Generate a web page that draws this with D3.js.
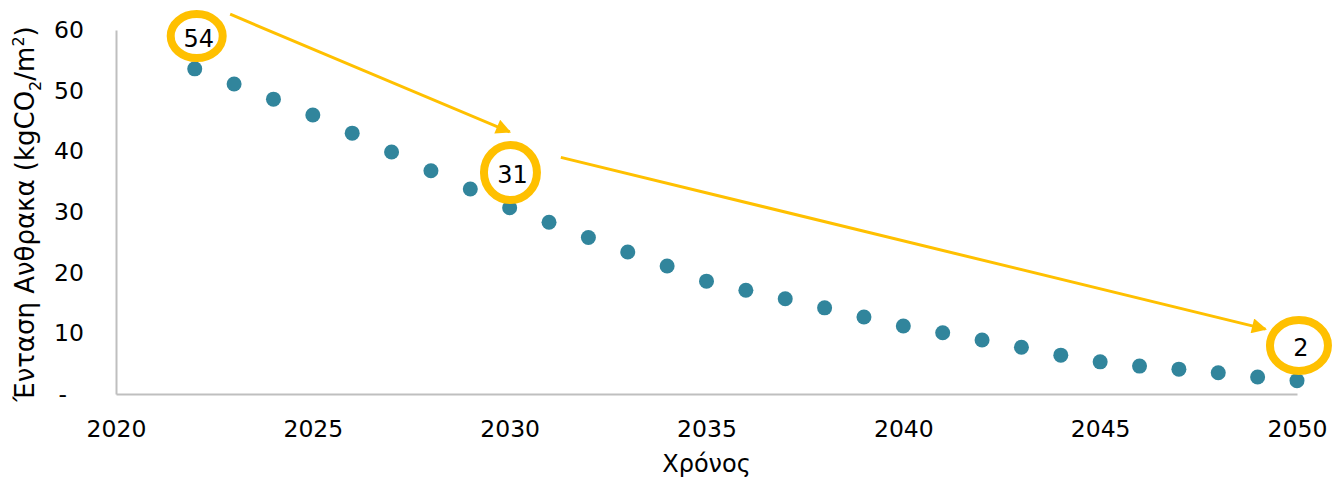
<!DOCTYPE html>
<html lang="el">
<head>
  <meta charset="UTF-8">
  <title>Carbon intensity</title>
  <script src="https://d3js.org/d3.v7.min.js"></script>
  <style>
    body { margin: 0; background: #fff; }
    text { font-family: "DejaVu Sans", Verdana, sans-serif; fill: #000; }
  </style>
</head>
<body>
  <div id="chart"></div>
  <script>
    // data
    const years = [2022, 2023, 2024, 2025, 2026, 2027, 2028, 2029, 2030, 2031,
      2032, 2033, 2034, 2035, 2036, 2037, 2038, 2039, 2040, 2041,
      2042, 2043, 2044, 2045, 2046, 2047, 2048, 2049, 2050];
    const intensity = [53.6, 51.1, 48.6, 46.0, 43.0, 39.9, 36.8, 33.8, 30.7, 28.3,
      25.8, 23.4, 21.1, 18.6, 17.1, 15.7, 14.2, 12.7, 11.2, 10.1,
      8.9, 7.7, 6.4, 5.3, 4.6, 4.1, 3.5, 2.8, 2.2];
    const xTicks = [2020, 2025, 2030, 2035, 2040, 2045, 2050];
    const yTicks = [0, 10, 20, 30, 40, 50, 60];

    // highlighted values (label, ring centre in data units)
    const callouts = [
      { label: '54', x: 2022.05, y: 59.0, rx: 30, ry: 26 },
      { label: '31', x: 2030.02, y: 36.5, rx: 30.5, ry: 31.5 },
      { label: '2', x: 2050.05, y: 8.0, rx: 33, ry: 29.5 }
    ];
    // arrows between callouts, in data units
    const arrows = [
      { x1: 2022.9, y1: 62.6, x2: 2030.0, y2: 43.2 },
      { x1: 2031.3, y1: 39.0, x2: 2049.2, y2: 10.7 }
    ];

    const width = 1337, height = 478;
    const margin = { top: 30, right: 40, bottom: 84, left: 116 };

    const svg = d3.select('#chart').append('svg')
      .attr('width', width)
      .attr('height', height);

    const x = d3.scaleLinear().domain([2020, 2050]).range([margin.left, width - margin.right]);
    const y = d3.scaleLinear().domain([0, 60]).range([height - margin.bottom, margin.top]);

    const axisColor = '#bfbfbf';
    const gold = '#ffc000';

    // x axis
    const xAxis = svg.append('g')
      .attr('transform', `translate(0,${y(0)})`)
      .call(d3.axisBottom(x).tickValues(xTicks).tickFormat(d3.format('d')).tickSize(0).tickPadding(26));
    xAxis.select('.domain').attr('stroke', axisColor).attr('stroke-width', 2);
    xAxis.selectAll('text').style('font-size', '23.5px').attr('fill', '#000');

    // y axis
    const yAxis = svg.append('g')
      .attr('transform', `translate(${x(2020)},0)`)
      .call(d3.axisLeft(y).tickValues(yTicks).tickFormat(d => d === 0 ? '-' : d).tickSize(0).tickPadding(32));
    yAxis.select('.domain').attr('stroke', axisColor).attr('stroke-width', 2);
    yAxis.selectAll('text').style('font-size', '23.5px').attr('fill', '#000')
      .attr('dx', d => d === 0 ? -17 : 0);

    // axis titles
    svg.append('text')
      .attr('x', (x(2020) + x(2050)) / 2)
      .attr('y', 472)
      .attr('text-anchor', 'middle')
      .style('font-size', '24px')
      .text('Χρόνος');

    const yTitle = svg.append('text')
      .attr('transform', `translate(34,${(y(0) + y(60)) / 2 + 2}) rotate(-90)`)
      .attr('text-anchor', 'middle')
      .style('font-size', '26px');
    yTitle.append('tspan').text('Ένταση Ανθρακα (kgCO');
    yTitle.append('tspan').attr('dy', 7).style('font-size', '16px').text('2');
    yTitle.append('tspan').attr('dy', -7).text('/m');
    yTitle.append('tspan').attr('dy', -10).style('font-size', '16px').text('2');
    yTitle.append('tspan').attr('dy', 10).text(')');

    // points
    svg.append('g')
      .selectAll('circle')
      .data(years)
      .join('circle')
      .attr('cx', d => x(d))
      .attr('cy', (d, i) => y(intensity[i]))
      .attr('r', 7.5)
      .attr('fill', '#31859c');

    // arrows
    svg.append('defs').append('marker')
      .attr('id', 'head')
      .attr('viewBox', '0 0 10 10')
      .attr('refX', 9)
      .attr('refY', 5)
      .attr('markerWidth', 5.5)
      .attr('markerHeight', 5)
      .attr('orient', 'auto')
      .append('path')
      .attr('d', 'M0,0 L10,5 L0,10 Z')
      .attr('fill', gold);

    svg.append('g')
      .selectAll('line')
      .data(arrows)
      .join('line')
      .attr('x1', d => x(d.x1))
      .attr('y1', d => y(d.y1))
      .attr('x2', d => x(d.x2))
      .attr('y2', d => y(d.y2))
      .attr('stroke', gold)
      .attr('stroke-width', 3)
      .attr('marker-end', 'url(#head)');

    // callout rings
    const callout = svg.append('g')
      .selectAll('g')
      .data(callouts)
      .join('g')
      .attr('transform', d => `translate(${x(d.x)},${y(d.y)})`);

    callout.append('ellipse')
      .attr('rx', d => d.rx - 4)
      .attr('ry', d => d.ry - 4)
      .attr('fill', '#fff')
      .attr('stroke', gold)
      .attr('stroke-width', 8);

    callout.append('text')
      .attr('text-anchor', 'middle')
      .attr('dy', '0.36em')
      .attr('x', 2)
      .attr('y', 2)
      .style('font-size', '24px')
      .text(d => d.label);
  </script>
</body>
</html>
